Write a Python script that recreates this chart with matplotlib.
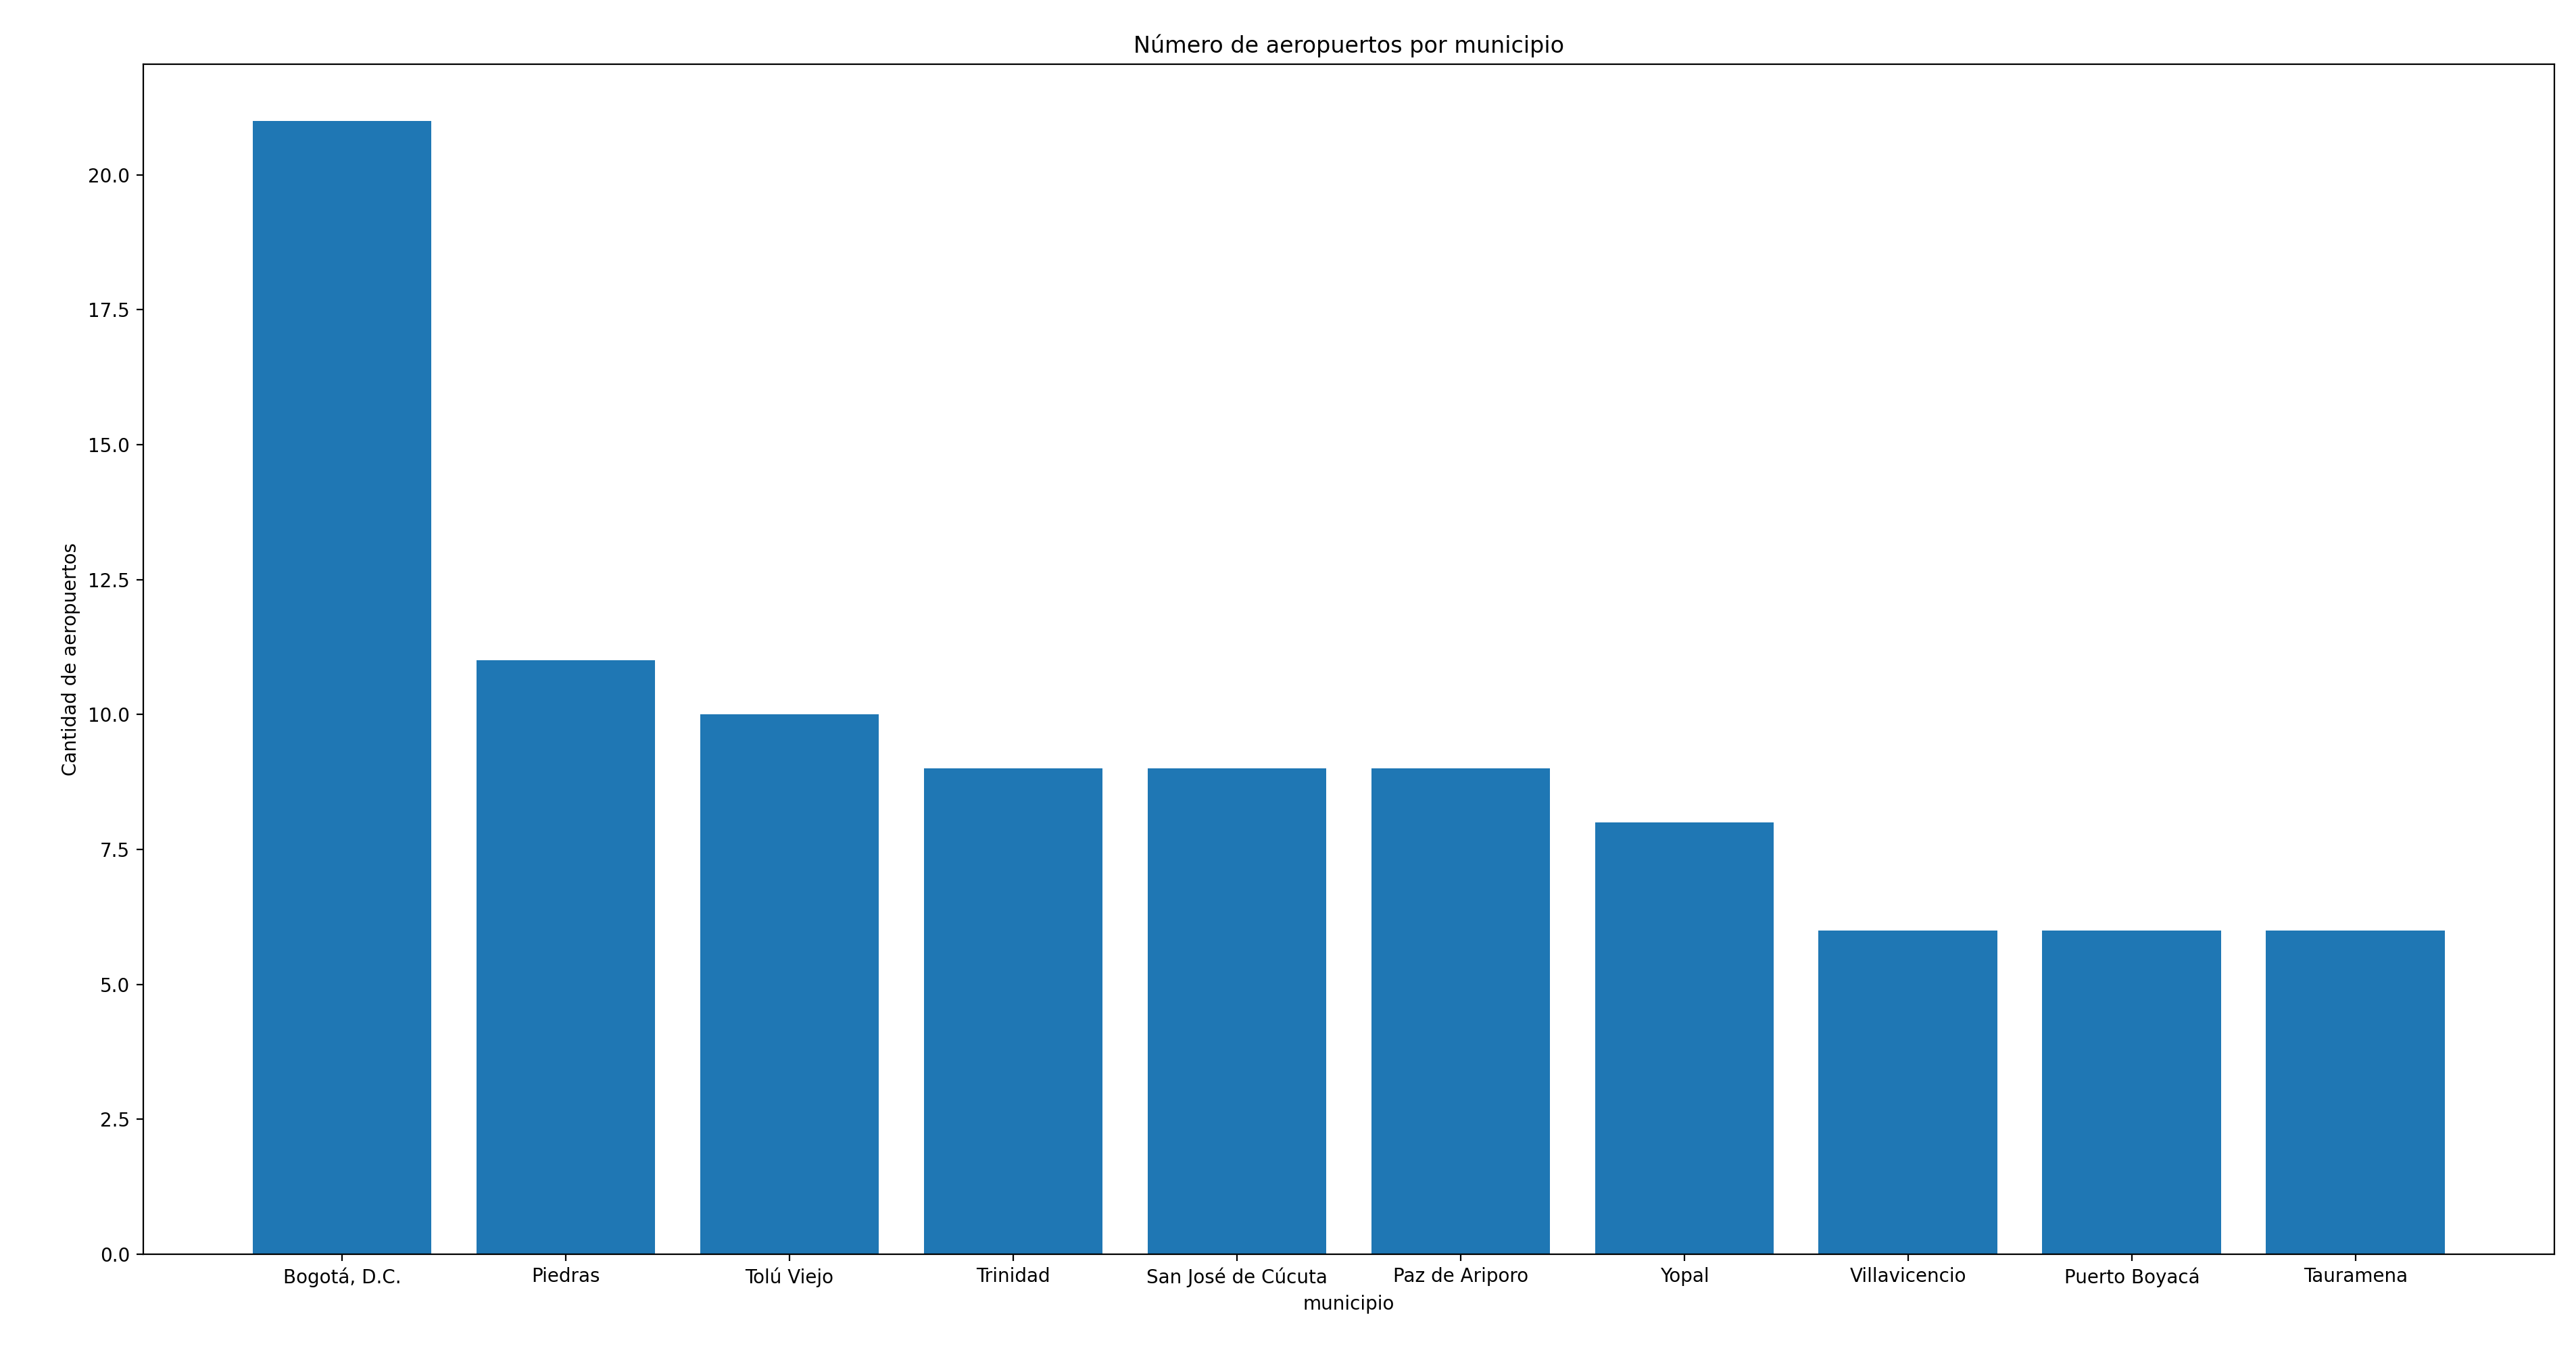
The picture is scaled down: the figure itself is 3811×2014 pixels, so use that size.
import matplotlib
matplotlib.use("Agg")
import matplotlib.pyplot as plt

municipios = ["Bogotá, D.C.", "Piedras", "Tolú Viejo", "Trinidad", "San José de Cúcuta",
              "Paz de Ariporo", "Yopal", "Villavicencio", "Puerto Boyacá", "Tauramena"]
cantidad = [21, 11, 10, 9, 9, 9, 8, 6, 6, 6]

fig = plt.figure(figsize=(19.055, 10.07), dpi=200)
ax = fig.add_axes([0.0555, 0.0785, 0.9362, 0.8744])
ax.bar(municipios, cantidad, color="#1f77b4")
ax.set_title("Número de aeropuertos por municipio")
ax.set_xlabel("municipio")
ax.set_ylabel("Cantidad de aeropuertos")
fig.savefig("out.png", dpi=200)
